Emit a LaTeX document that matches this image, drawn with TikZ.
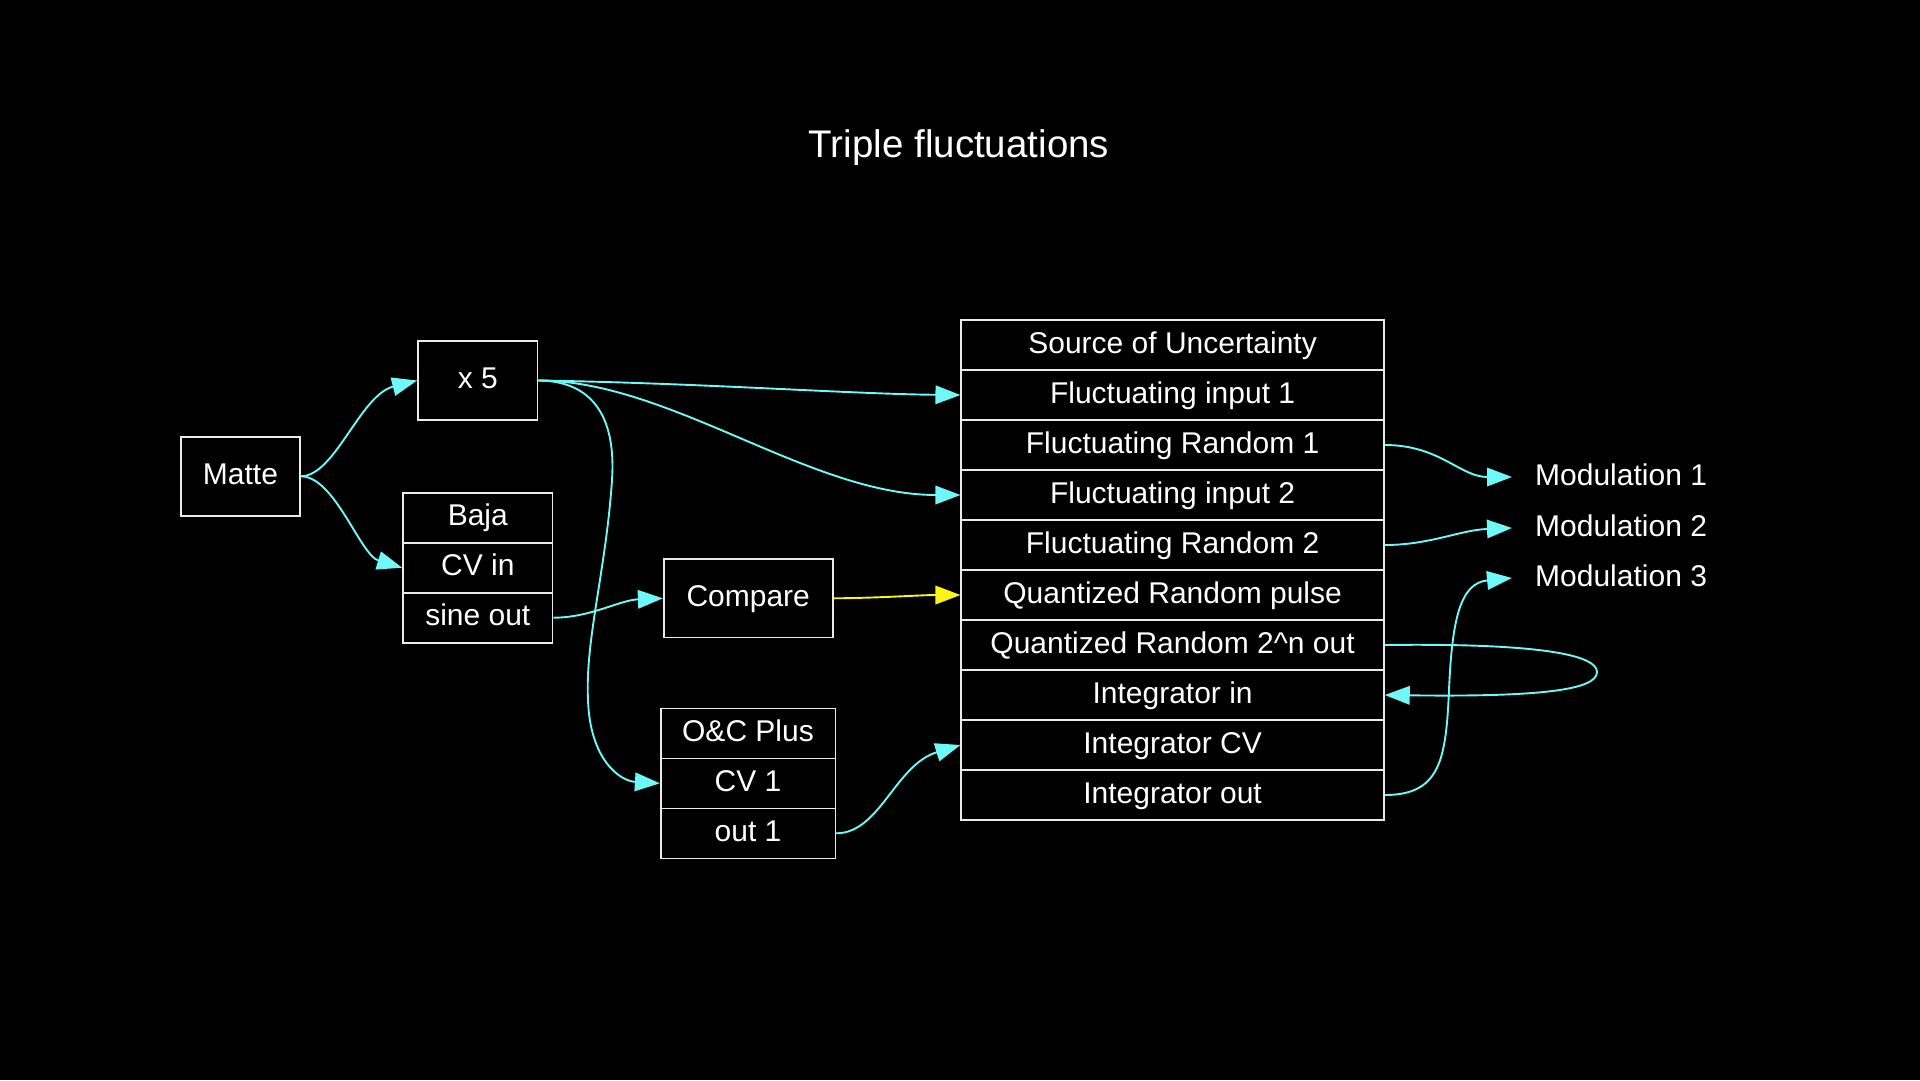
\documentclass[tikz,border=0pt]{standalone}
\usepackage{fontspec}
\setmainfont{Liberation Sans}
\usetikzlibrary{arrows.meta}
\definecolor{cyanc}{RGB}{110,248,248}
\definecolor{yelc}{RGB}{250,245,20}
\definecolor{boxc}{RGB}{235,235,235}
\tikzset{
  lbl/.style={font=\fontsize{30}{36}\selectfont, text=white, text height=22pt, text depth=6pt, inner sep=0pt},
  box/.style={lbl, draw=boxc, line width=1.6pt, fill=black},
  wire/.style={draw=cyanc, line width=1.9pt, -{Triangle[length=25pt,width=18.5pt]}},
  ywire/.style={wire, draw=yelc, -{Triangle[length=25pt,width=18.5pt,fill=yelc]}},
  row/.style={box, minimum width=422.7pt, minimum height=50pt},
}
\begin{document}
\begin{tikzpicture}[x=1pt,y=-1pt]
\useasboundingbox (0,0) rectangle (1920,1080);
\fill[black] (0,0) rectangle (1920,1080);

\node[font=\fontsize{38.5}{44}\selectfont, text=white, anchor=base, inner sep=0pt] (title) at (959,157.5) {Triple fluctuations};

% left nodes
\node[box, minimum width=119pt, minimum height=79pt] (matte) at (240.5,476.3) {Matte};
\node[box, minimum width=119.7pt, minimum height=79pt] (x5) at (477.8,380.5) {x 5};

\node[box, minimum width=149.7pt, minimum height=50pt] (baja) at (477.8,517.7) {Baja};
\node[box, minimum width=149.7pt, minimum height=50pt] (cvin) at (477.8,567.7) {CV in};
\node[box, minimum width=149.7pt, minimum height=50pt] (sine) at (477.8,617.7) {sine out};

\node[box, minimum width=169pt, minimum height=78.7pt] (cmp) at (748.2,598.3) {Compare};

\node[box, minimum width=174.6pt, minimum height=50pt] (oc) at (748,733.3) {O\&C Plus};
\node[box, minimum width=174.6pt, minimum height=50pt] (cv1) at (748,783.3) {CV 1};
\node[box, minimum width=174.6pt, minimum height=50pt] (out1) at (748,833.3) {out 1};

% big record
\node[row] (s0) at (1172.6,345) {Source of Uncertainty};
\node[row] (s1) at (1172.6,395) {Fluctuating input 1};
\node[row] (s2) at (1172.6,445) {Fluctuating Random 1};
\node[row] (s3) at (1172.6,495) {Fluctuating input 2};
\node[row] (s4) at (1172.6,545) {Fluctuating Random 2};
\node[row] (s5) at (1172.6,595) {Quantized Random pulse};
\node[row] (s6) at (1172.6,645) {Quantized Random 2\^{}n out};
\node[row] (s7) at (1172.6,695) {Integrator in};
\node[row] (s8) at (1172.6,745) {Integrator CV};
\node[row] (s9) at (1172.6,795) {Integrator out};

% outputs
\node[lbl, anchor=west, inner xsep=23pt] (m1) at (1512,477) {Modulation 1};
\node[lbl, anchor=west, inner xsep=23pt] (m2) at (1512,528) {Modulation 2};
\node[lbl, anchor=west, inner xsep=23pt] (m3) at (1512,578) {Modulation 3};

% connectors
\draw[wire] (matte.east) .. controls (335,476.3) and (360,395) .. (x5.west);
\draw[wire] (matte.east) .. controls (335,476.3) and (360,555) .. (cvin.west);
\draw[wire] (x5.east) .. controls (700,383) and (850,394) .. (s1.west);
\draw[wire] (x5.east) .. controls (670,380.5) and (810,495) .. (s3.west);
\draw[wire] (x5.east) .. controls (595,381) and (616,420) .. (612,480)
  .. controls (606,570) and (585,640) .. (588,700)
  .. controls (590,760) and (620,781) .. (cv1.west);
\draw[wire] (sine.east) .. controls (590,617.7) and (620,600) .. (cmp.west);
\draw[ywire] (cmp.east) .. controls (880,598) and (920,595) .. (s5.west);
\draw[wire] (out1.east) .. controls (880,833.3) and (895,765) .. (s8.west);
\draw[wire] (s2.east) .. controls (1440,445) and (1460,477) .. (m1.west);
\draw[wire] (s4.east) .. controls (1430,545) and (1460,530) .. (m2.west);
\draw[wire] (s9.east) .. controls (1440,795) and (1446,760) .. (1449,690)
  .. controls (1452,620) and (1460,583) .. (m3.west);
\draw[wire] (s6.east) .. controls (1540,643) and (1597,655) .. (1597,672)
  .. controls (1597,690) and (1540,697) .. (s7.east);
\end{tikzpicture}
\end{document}
